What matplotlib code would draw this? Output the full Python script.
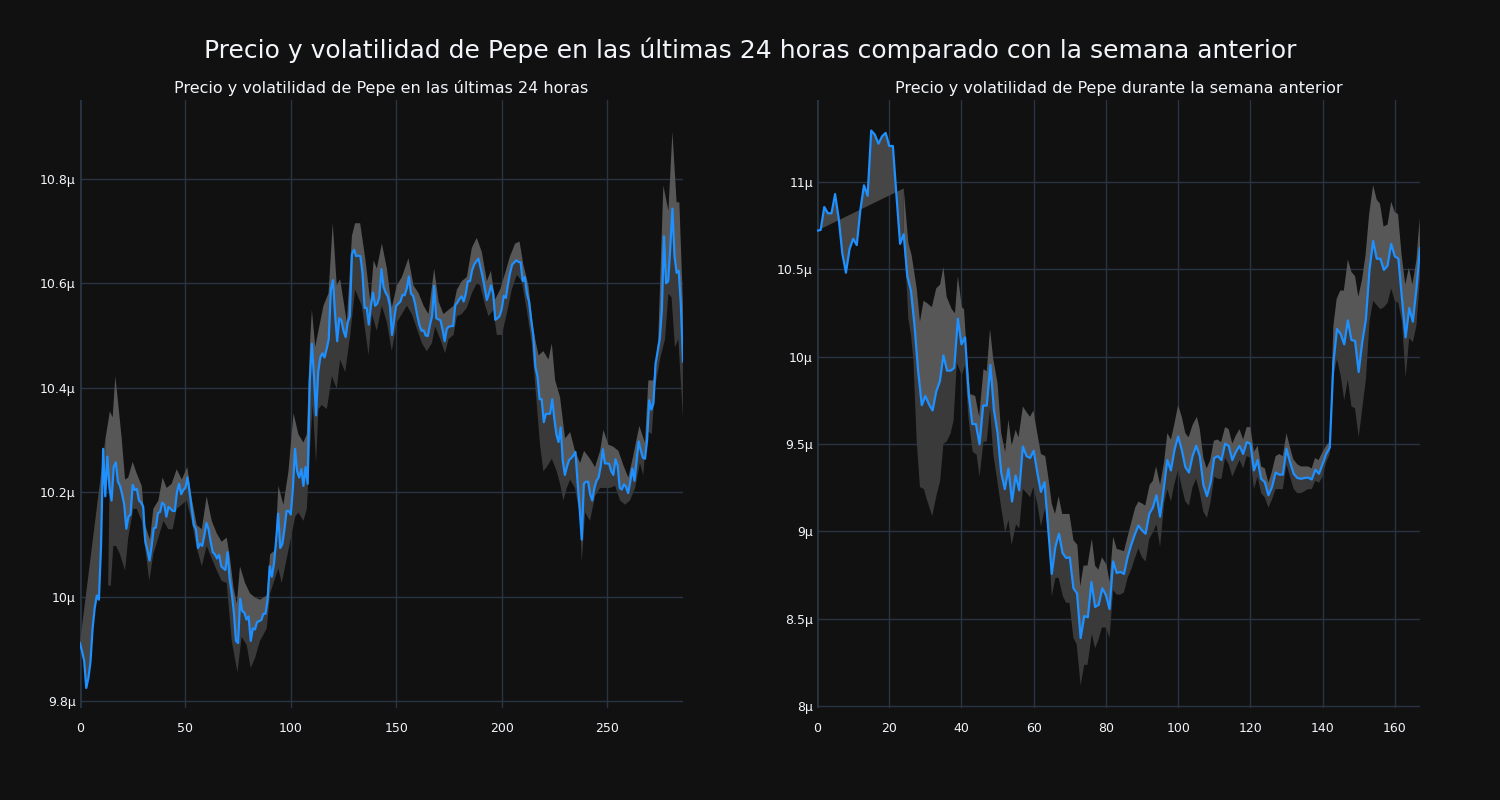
import numpy as np
import matplotlib
matplotlib.use("Agg")
import matplotlib.pyplot as plt
from matplotlib.ticker import FuncFormatter

# precio de Pepe (en millonesimas de USD)
# ultimas 24 horas, un punto cada 5 minutos
price_24h = [
    9.911, 9.895, 9.877, 9.825, 9.844, 9.875, 9.939, 9.978, 10.002, 9.994,
    10.097, 10.283, 10.192, 10.268, 10.208, 10.184, 10.248, 10.257, 10.22, 10.212,
    10.196, 10.176, 10.13, 10.153, 10.157, 10.214, 10.204, 10.206, 10.184, 10.18,
    10.172, 10.105, 10.089, 10.069, 10.097, 10.131, 10.132, 10.16, 10.162, 10.18,
    10.176, 10.153, 10.172, 10.168, 10.164, 10.164, 10.2, 10.216, 10.196, 10.204,
    10.208, 10.228, 10.2, 10.168, 10.137, 10.129, 10.093, 10.101, 10.097, 10.117,
    10.141, 10.129, 10.105, 10.085, 10.081, 10.073, 10.08, 10.058, 10.054, 10.051,
    10.085, 10.034, 10.006, 9.97, 9.915, 9.911, 9.996, 9.972, 9.969, 9.956,
    9.962, 9.915, 9.939, 9.937, 9.951, 9.953, 9.955, 9.967, 9.967, 9.994,
    10.058, 10.038, 10.062, 10.105, 10.159, 10.093, 10.101, 10.129, 10.164, 10.164,
    10.157, 10.208, 10.283, 10.24, 10.228, 10.244, 10.212, 10.248, 10.216, 10.414,
    10.484, 10.422, 10.347, 10.43, 10.458, 10.466, 10.458, 10.474, 10.493, 10.588,
    10.606, 10.541, 10.489, 10.533, 10.529, 10.509, 10.497, 10.525, 10.537, 10.656,
    10.664, 10.652, 10.653, 10.652, 10.62, 10.553, 10.553, 10.521, 10.557, 10.582,
    10.557, 10.561, 10.573, 10.627, 10.593, 10.582, 10.575, 10.557, 10.501, 10.53,
    10.557, 10.561, 10.565, 10.578, 10.577, 10.59, 10.613, 10.58, 10.576, 10.56,
    10.538, 10.52, 10.509, 10.51, 10.50, 10.499, 10.52, 10.537, 10.595, 10.533,
    10.531, 10.529, 10.511, 10.489, 10.513, 10.517, 10.518, 10.518, 10.558, 10.563,
    10.57, 10.575, 10.565, 10.58, 10.604, 10.604, 10.625, 10.636, 10.642, 10.647,
    10.63, 10.612, 10.59, 10.568, 10.58, 10.596, 10.58, 10.53, 10.533, 10.537,
    10.55, 10.576, 10.572, 10.598, 10.62, 10.636, 10.64, 10.644, 10.641, 10.64,
    10.604, 10.612, 10.58, 10.565, 10.53, 10.501, 10.44, 10.422, 10.378, 10.378,
    10.334, 10.35, 10.35, 10.35, 10.378, 10.34, 10.31, 10.296, 10.324, 10.26,
    10.233, 10.249, 10.262, 10.265, 10.27, 10.277, 10.22, 10.17, 10.109, 10.216,
    10.22, 10.22, 10.196, 10.184, 10.208, 10.222, 10.228, 10.25, 10.282, 10.255,
    10.255, 10.254, 10.24, 10.233, 10.263, 10.251, 10.208, 10.205, 10.215, 10.21,
    10.198, 10.22, 10.245, 10.222, 10.26, 10.297, 10.28, 10.266, 10.264, 10.30,
    10.376, 10.358, 10.37, 10.446, 10.47, 10.493, 10.549, 10.69, 10.60, 10.604,
    10.67, 10.743, 10.652, 10.62, 10.624, 10.56, 10.45,
]

# borde superior e inferior de la volatilidad (x, precio)
upper_24h = [
    (12, 10.30), (14.2, 10.355), (15.5, 10.343), (16.8, 10.422), (18.2, 10.367),
    (19.8, 10.303), (21.4, 10.224), (22.9, 10.228), (25, 10.258), (26.9, 10.236),
    (29.3, 10.212), (30.9, 10.137), (33.2, 10.109), (34.8, 10.168), (37.2, 10.184),
    (39.2, 10.228), (41.1, 10.208), (43.5, 10.216), (45.9, 10.244), (48.3, 10.224),
    (50.9, 10.248), (53, 10.188), (55.4, 10.137), (57.8, 10.129), (60.1, 10.192),
    (62.5, 10.145), (64.9, 10.121), (67.2, 10.105), (69.6, 10.113), (71.2, 10.073),
    (72.8, 10.018), (74.4, 9.986), (75.9, 10.058), (78.3, 10.026), (80.7, 10.006),
    (83.1, 9.998), (85.4, 9.994), (88.6, 10.002), (90.2, 10.081), (92.6, 10.089),
    (94.1, 10.212), (96.5, 10.176), (98.9, 10.24), (101.3, 10.351), (103.6, 10.311),
    (106, 10.295), (107.6, 10.311), (109.2, 10.493), (110, 10.549), (111.6, 10.478),
    (113.1, 10.509), (115.5, 10.557), (117.9, 10.581), (119.9, 10.715), (121.8, 10.596),
    (123.4, 10.608), (126.6, 10.525), (129, 10.691), (130.5, 10.715), (132.9, 10.715),
    (135.3, 10.648), (137.7, 10.565), (139.3, 10.644), (140.8, 10.628), (143.2, 10.676),
    (145.6, 10.628), (147.9, 10.553), (150.3, 10.596), (152.7, 10.612), (155.8, 10.648),
    (158.2, 10.596), (160.6, 10.581), (163, 10.557), (165.3, 10.541), (168, 10.628),
    (170.1, 10.565), (172.4, 10.541), (174.8, 10.549), (177.2, 10.557), (178.8, 10.588),
    (181.1, 10.604), (183.5, 10.612), (185.9, 10.668), (188.2, 10.687), (190.6, 10.66),
    (193, 10.604), (194.9, 10.624), (196.9, 10.569), (199.3, 10.588), (201.7, 10.62),
    (204, 10.652), (206.4, 10.676), (208.5, 10.68), (210.3, 10.636), (212.7, 10.596),
    (215.1, 10.509), (217.5, 10.462), (219.8, 10.47), (222.2, 10.454), (223.8, 10.485),
    (225.4, 10.414), (227.7, 10.382), (230.1, 10.303), (232.5, 10.315), (234.8, 10.279),
    (237.2, 10.256), (239.1, 10.279), (241.9, 10.264), (244.3, 10.248), (246.7, 10.279),
    (248.3, 10.319), (250.6, 10.291), (253, 10.287), (255.4, 10.279), (257.7, 10.252),
    (260.1, 10.228), (262.5, 10.271), (265.3, 10.327), (268, 10.295), (269.6, 10.414),
    (272, 10.414), (274.3, 10.493), (276.7, 10.787), (279.1, 10.739), (281, 10.89),
    (283, 10.755), (284.3, 10.755), (286, 10.56),
]
lower_24h = [
    (13.4, 10.022), (14.6, 10.02), (15.8, 10.097), (17.1, 10.097), (19, 10.081),
    (21.4, 10.05), (22.9, 10.113), (25.3, 10.168), (26.9, 10.168), (29.3, 10.145),
    (31.3, 10.081), (32.9, 10.03), (34.8, 10.081), (37.2, 10.113), (39.6, 10.145),
    (41.9, 10.129), (44, 10.129), (45.9, 10.168), (48.3, 10.176), (50.6, 10.184),
    (53, 10.145), (55.4, 10.093), (57.8, 10.058), (60.1, 10.097), (62.5, 10.073),
    (64.9, 10.05), (67.2, 10.03), (69.6, 10.026), (72, 9.915), (74.7, 9.855),
    (76.7, 9.923), (79.1, 9.907), (81, 9.863), (83.1, 9.883), (85.4, 9.915),
    (88.6, 9.939), (90.2, 10.006), (91.8, 10.026), (94.1, 10.054), (95.7, 10.026),
    (98.9, 10.089), (102.1, 10.153), (103.6, 10.161), (106, 10.145), (107.6, 10.168),
    (109.5, 10.311), (110.4, 10.367), (112, 10.256), (113.1, 10.359), (114.7, 10.367),
    (117.1, 10.359), (119.5, 10.422), (121.8, 10.398), (123.4, 10.454), (125.8, 10.43),
    (128.2, 10.501), (130.5, 10.588), (133.7, 10.557), (136.9, 10.462), (138.5, 10.541),
    (140.8, 10.509), (143.2, 10.557), (145.6, 10.525), (147.9, 10.47), (150.3, 10.525),
    (152.7, 10.541), (155.1, 10.557), (157.4, 10.541), (159.8, 10.513), (162.2, 10.485),
    (164.5, 10.47), (166.9, 10.485), (168.5, 10.517), (170.9, 10.493), (173.2, 10.466),
    (174.8, 10.493), (177.2, 10.501), (178.8, 10.537), (181.1, 10.541), (183.5, 10.553),
    (185.9, 10.581), (188.2, 10.6), (189.8, 10.596), (192.2, 10.557), (193.8, 10.537),
    (196.1, 10.549), (197.7, 10.501), (200.1, 10.501), (202.4, 10.541), (204.8, 10.588),
    (207.2, 10.616), (209.6, 10.604), (211.9, 10.549), (214.3, 10.485), (216.7, 10.367),
    (218.2, 10.291), (219.8, 10.24), (221.4, 10.248), (223.8, 10.264), (226.1, 10.24),
    (227.7, 10.216), (229.3, 10.184), (230.9, 10.208), (232.5, 10.224), (234.8, 10.208),
    (237.2, 10.153), (238, 10.065), (239.6, 10.161), (241.9, 10.145), (244.3, 10.192),
    (246.7, 10.208), (249.1, 10.208), (251.4, 10.208), (253.8, 10.212), (256.2, 10.184),
    (258.5, 10.176), (260.9, 10.184), (263.3, 10.208), (265.6, 10.256), (267.2, 10.232),
    (268.8, 10.319), (271.2, 10.311), (272.7, 10.398), (275.1, 10.454), (277.5, 10.493),
    (279.1, 10.58), (280.6, 10.573), (282.2, 10.477), (283.8, 10.493), (286, 10.343),
]

# semana anterior, un punto por hora
price_week = [
    10.72, 10.725, 10.856, 10.82, 10.82, 10.93, 10.79, 10.59, 10.48, 10.615,
    10.674, 10.638, 10.84, 10.98, 10.92, 11.293, 11.27, 11.218, 11.26, 11.28,
    11.205, 11.205, 10.92, 10.645, 10.70, 10.46, 10.378, 10.177, 9.917, 9.722,
    9.775, 9.727, 9.692, 9.80, 9.858, 10.007, 9.92, 9.92, 9.936, 10.217,
    10.07, 10.11, 9.786, 9.614, 9.614, 9.498, 9.72, 9.72, 9.952, 9.692,
    9.562, 9.337, 9.242, 9.36, 9.171, 9.32, 9.235, 9.486, 9.431, 9.42,
    9.462, 9.337, 9.226, 9.282, 9.017, 8.757, 8.911, 8.987, 8.876, 8.848,
    8.852, 8.675, 8.646, 8.39, 8.516, 8.509, 8.71, 8.568, 8.58, 8.675,
    8.636, 8.556, 8.828, 8.762, 8.769, 8.757, 8.852, 8.923, 8.982, 9.034,
    9.006, 8.987, 9.10, 9.136, 9.207, 9.084, 9.242, 9.408, 9.349, 9.467,
    9.543, 9.467, 9.368, 9.337, 9.431, 9.49, 9.431, 9.266, 9.202, 9.278,
    9.42, 9.431, 9.408, 9.502, 9.49, 9.408, 9.455, 9.49, 9.443, 9.51,
    9.502, 9.349, 9.408, 9.301, 9.282, 9.207, 9.254, 9.337, 9.325, 9.325,
    9.472, 9.396, 9.33, 9.306, 9.301, 9.306, 9.308, 9.297, 9.353, 9.33,
    9.384, 9.443, 9.479, 9.964, 10.158, 10.13, 10.07, 10.207, 10.095, 10.09,
    9.912, 10.084, 10.212, 10.496, 10.662, 10.56, 10.56, 10.496, 10.52, 10.645,
    10.574, 10.56, 10.33, 10.11, 10.278, 10.2, 10.39, 10.621,
]

upper_week = [
    (24, 10.962), (25.3, 10.65), (26.2, 10.579), (27.6, 10.39), (28.5, 10.2),
    (29.5, 10.319), (30.4, 10.307), (31.8, 10.283), (33, 10.39), (34.1, 10.413),
    (35, 10.513), (35.9, 10.342), (37.3, 10.271), (38.2, 10.248), (39, 10.461),
    (40.1, 10.283), (40.7, 10.271), (41.5, 10.011), (42.4, 9.786), (43.8, 9.775),
    (44.9, 9.656), (46.1, 9.928), (47, 9.917), (47.9, 10.158), (48.8, 9.987),
    (50, 9.846), (51, 9.562), (52.1, 9.455), (53, 9.64), (53.9, 9.491),
    (55, 9.581), (55.8, 9.538), (57, 9.715), (58.1, 9.68), (59, 9.656),
    (59.9, 9.692), (60.8, 9.585), (62, 9.443), (63.2, 9.431), (64.1, 9.301),
    (65, 9.159), (65.9, 9.1), (66.9, 9.202), (67.9, 9.1), (69.2, 9.1),
    (69.9, 9.1), (71, 8.951), (72.1, 8.923), (72.9, 8.686), (73.8, 8.805),
    (74.9, 8.805), (76.1, 8.958), (77, 8.805), (77.9, 8.781), (78.9, 8.852),
    (80.2, 8.809), (81, 8.71), (82, 8.97), (83, 8.9), (84, 8.894),
    (85, 8.887), (86, 8.97), (87.2, 9.065), (88.1, 9.136), (89, 9.171),
    (90, 9.16), (90.9, 9.148), (92.1, 9.266), (93, 9.29), (93.9, 9.372),
    (95, 9.266), (96.1, 9.396), (97, 9.562), (98, 9.526), (98.9, 9.609),
    (100, 9.722), (101, 9.656), (102, 9.562), (102.9, 9.538), (104, 9.609),
    (105.2, 9.656), (106, 9.585), (107, 9.42), (107.9, 9.361), (108.9, 9.408),
    (109.9, 9.519), (110.9, 9.526), (111.9, 9.51), (113, 9.597), (114, 9.585),
    (115, 9.502), (116, 9.55), (117, 9.585), (118, 9.526), (119, 9.597),
    (120, 9.597), (121, 9.455), (122, 9.491), (123, 9.372), (124, 9.361),
    (125, 9.278), (125.9, 9.337), (127, 9.431), (128, 9.443), (129, 9.431),
    (130, 9.562), (131, 9.479), (131.9, 9.413), (133, 9.384), (134, 9.372),
    (135, 9.372), (136, 9.372), (137, 9.361), (137.9, 9.42), (138.9, 9.408),
    (140, 9.455), (141, 9.491), (142, 9.514), (143, 10.177), (143.9, 10.33),
    (144.9, 10.378), (145.9, 10.378), (147, 10.555), (148, 10.484), (149, 10.461),
    (149.9, 10.342), (150.9, 10.437), (151.9, 10.579), (152.9, 10.815), (154, 10.981),
    (155, 10.898), (155.9, 10.875), (156.9, 10.744), (158, 10.756), (159, 10.886),
    (160, 10.827), (160.9, 10.815), (161.9, 10.579), (162.9, 10.413), (163.9, 10.508),
    (164.9, 10.413), (166, 10.555), (166.9, 10.792),
]
lower_week = [
    (24, 10.65), (24.8, 10.413), (25.3, 10.212), (26, 10.129), (26.7, 9.976),
    (27.6, 9.514), (28.5, 9.254), (29.6, 9.242), (30.4, 9.183), (31.9, 9.088),
    (33.1, 9.207), (34.1, 9.29), (35, 9.502), (35.9, 9.514), (37, 9.562),
    (37.8, 9.633), (38.7, 9.964), (40.1, 9.893), (41, 9.952), (41.9, 9.656),
    (43.1, 9.455), (44.2, 9.439), (45, 9.313), (46.1, 9.514), (47, 9.514),
    (47.9, 9.704), (48.8, 9.443), (50, 9.278), (51, 9.136), (52.1, 8.994),
    (53, 9.065), (53.9, 8.923), (55.1, 9.041), (56, 9.018), (57, 9.242),
    (58.1, 9.219), (59, 9.195), (59.9, 9.254), (61, 9.159), (62, 9.029),
    (63.2, 9.136), (64.1, 8.97), (65, 8.627), (66, 8.734), (66.9, 8.734),
    (68.1, 8.627), (69, 8.592), (69.9, 8.592), (71, 8.391), (71.9, 8.355),
    (73, 8.119), (74, 8.237), (74.9, 8.237), (76.1, 8.414), (77, 8.331),
    (77.9, 8.379), (78.9, 8.45), (80.1, 8.45), (81, 8.391), (82, 8.663),
    (83, 8.639), (84, 8.639), (85, 8.651), (86, 8.734), (87.2, 8.793),
    (88.1, 8.852), (89, 8.904), (90, 8.852), (91, 8.828), (92, 8.958),
    (93, 8.994), (94, 9.041), (95, 8.911), (96.1, 9.159), (97, 9.242),
    (98, 9.171), (98.9, 9.266), (100, 9.353), (101, 9.254), (102, 9.171),
    (103, 9.148), (104, 9.254), (105, 9.301), (106, 9.219), (107, 9.112),
    (108, 9.077), (109, 9.171), (110, 9.313), (111, 9.301), (112, 9.301),
    (113, 9.42), (114, 9.384), (115, 9.313), (116, 9.361), (117, 9.408),
    (118, 9.361), (119, 9.431), (120, 9.42), (121, 9.242), (122, 9.313),
    (123, 9.219), (124, 9.195), (125, 9.136), (126, 9.183), (127, 9.242),
    (128, 9.242), (129, 9.242), (130, 9.384), (131, 9.313), (132, 9.242),
    (133, 9.219), (134, 9.219), (135, 9.23), (136, 9.242), (137, 9.242),
    (138, 9.29), (139, 9.278), (140, 9.313), (141, 9.396), (142, 9.443),
    (143, 9.893), (144, 9.987), (145, 9.893), (146, 9.751), (147, 9.869),
    (148, 9.715), (149, 9.704), (150, 9.538), (151, 9.704), (152, 9.869),
    (153, 10.2), (154, 10.319), (155, 10.295), (156, 10.271), (157, 10.283),
    (158, 10.307), (159, 10.39), (160, 10.319), (161, 10.307), (162, 10.2),
    (163, 9.881), (164, 10.106), (165, 10.082), (166, 10.177), (167, 10.461),
]

titles = ["Precio y volatilidad de Pepe en las últimas 24 horas",
          "Precio y volatilidad de Pepe durante la semana anterior"]
suptitle = "Precio y volatilidad de Pepe en las últimas 24 horas comparado con la semana anterior"

BG = "#111111"
GRID = "#283442"
TXT = "#f2f5fa"
LINE = "#1e90ff"


def band_plot(ax, price, upper, lower):
    y = np.array(price)
    x = np.arange(len(y))
    ux, uy = map(np.array, zip(*upper))
    lx, ly = map(np.array, zip(*lower))

    # tramo inicial sin ventana completa: cierre recto hasta el primer punto
    s = int(np.ceil(ux[0]))
    ax.fill(np.r_[x[:s + 1], ux[0]], np.r_[y[:s + 1], uy[0]],
            color="#464646", lw=0)

    k = int(np.ceil(lx[0]))
    ax.fill(np.r_[x[k:], lx[::-1]], np.r_[y[k:], ly[::-1]],
            color="#3a3a3a", lw=0)
    ax.fill(np.r_[x[s:], ux[::-1]], np.r_[y[s:], uy[::-1]],
            color="#575757", lw=0)
    ax.plot(x, y, color=LINE, lw=1.6, zorder=3)
    ax.set_xlim(0, len(y) - 1)


fig = plt.figure(figsize=(15, 8), dpi=100, facecolor=BG)
ax1 = fig.add_axes([0.0533, 0.115, 0.402, 0.76])
ax2 = fig.add_axes([0.5447, 0.115, 0.402, 0.76])

band_plot(ax1, price_24h, upper_24h, lower_24h)
band_plot(ax2, price_week, upper_week, lower_week)

ax1.set_ylim(9.7866, 10.951)
ax1.set_yticks([9.8, 10.0, 10.2, 10.4, 10.6, 10.8])
ax1.set_xticks([0, 50, 100, 150, 200, 250])
ax2.set_ylim(7.99, 11.468)
ax2.set_yticks([8, 8.5, 9, 9.5, 10, 10.5, 11])
ax2.set_xticks([0, 20, 40, 60, 80, 100, 120, 140, 160])

fmt = FuncFormatter(lambda v, p: f"{v:g}\u03bc")
for ax, t in zip([ax1, ax2], titles):
    ax.set_facecolor(BG)
    for sp in ax.spines.values():
        sp.set_visible(False)
    ax.grid(True, color=GRID, lw=1.0)
    ax.set_axisbelow(True)
    ax.axvline(0, color=GRID, lw=2, zorder=0.5)
    ax.yaxis.set_major_formatter(fmt)
    ax.tick_params(length=0, colors=TXT, labelsize=9)
    ax.tick_params(axis="x", pad=10)
    ax.tick_params(axis="y", pad=3)
    ax.set_title(t, color=TXT, fontsize=11.5, pad=5)

fig.suptitle(suptitle, color=TXT, fontsize=18, y=0.953)

fig.savefig("out.png", dpi=100, facecolor=BG)
